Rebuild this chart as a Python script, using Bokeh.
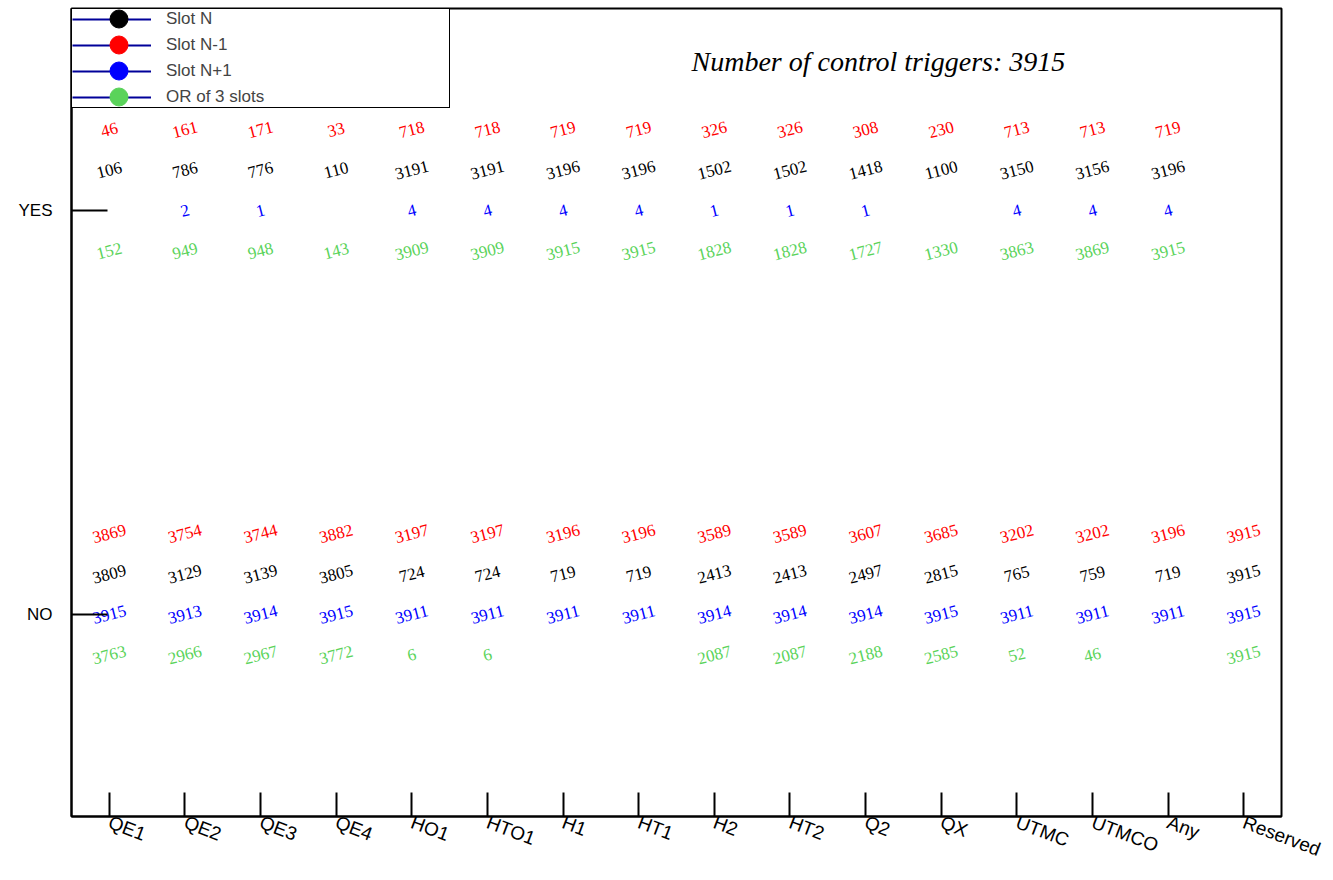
from bokeh.plotting import figure
from bokeh.models import ColumnDataSource, Legend, LegendItem, Label
from bokeh.transform import dodge
from bokeh.core.properties import value
from bokeh.embed import file_html
from bokeh.resources import INLINE

categories = ["QE1", "QE2", "QE3", "QE4", "HO1", "HTO1", "H1", "HT1", "H2", "HT2",
              "Q2", "QX", "UTMC", "UTMCO", "Any", "Reserved"]
states = ["NO", "YES"]

# YES row
yes_slot_nm1 = [46, 161, 171, 33, 718, 718, 719, 719, 326, 326, 308, 230, 713, 713, 719, None]
yes_slot_n = [106, 786, 776, 110, 3191, 3191, 3196, 3196, 1502, 1502, 1418, 1100, 3150, 3156, 3196, None]
yes_slot_np1 = [None, 2, 1, None, 4, 4, 4, 4, 1, 1, 1, None, 4, 4, 4, None]
yes_or3 = [152, 949, 948, 143, 3909, 3909, 3915, 3915, 1828, 1828, 1727, 1330, 3863, 3869, 3915, None]

# NO row
no_slot_nm1 = [3869, 3754, 3744, 3882, 3197, 3197, 3196, 3196, 3589, 3589, 3607, 3685, 3202, 3202, 3196, 3915]
no_slot_n = [3809, 3129, 3139, 3805, 724, 724, 719, 719, 2413, 2413, 2497, 2815, 765, 759, 719, 3915]
no_slot_np1 = [3915, 3913, 3914, 3915, 3911, 3911, 3911, 3911, 3914, 3914, 3914, 3915, 3911, 3911, 3911, 3915]
no_or3 = [3763, 2966, 2967, 3772, 6, 6, None, None, 2087, 2087, 2188, 2585, 52, 46, None, 3915]

series_names = ["Slot N", "Slot N-1", "Slot N+1", "OR of 3 slots"]
series_colors = ["#000000", "#ff0000", "#0000ff", "#5ad35a"]
n_triggers = 3915

SERIF = "Liberation Serif"
SANS = "Liberation Sans"

BORDER_TOP, BORDER_BOTTOM, HEIGHT = 8, 56, 872
FRAME_H = HEIGHT - BORDER_TOP - BORDER_BOTTOM

p = figure(width=1325, height=HEIGHT, x_range=categories, y_range=states,
           output_backend="svg", toolbar_location=None,
           min_border_left=71, min_border_right=44, min_border_top=BORDER_TOP,
           min_border_bottom=BORDER_BOTTOM)
p.xgrid.visible = False
p.ygrid.visible = False
p.outline_line_color = "black"
p.outline_line_width = 2
p.background_fill_color = "white"
p.border_fill_color = "white"

for ax in (p.xaxis[0], p.yaxis[0]):
    ax.axis_line_width = 2
    ax.major_tick_line_width = 2
    ax.major_tick_out = 0
    ax.minor_tick_line_color = None
    ax.major_label_text_font = SANS
    ax.major_label_text_color = "black"

p.xaxis[0].major_tick_in = 24
p.xaxis[0].major_label_orientation = -0.36
p.xaxis[0].major_label_standoff = 5
p.xaxis[0].major_label_text_font_size = "19px"
p.yaxis[0].major_tick_in = 36
p.yaxis[0].major_label_standoff = 19
p.yaxis[0].major_label_text_font_size = "17px"
p.yaxis[0].major_label_orientation = "horizontal"


def fmt(vals):
    return [("" if v is None else str(v)) for v in vals]


rows = [
    (yes_slot_nm1, no_slot_nm1, series_colors[1], 0.2),
    (yes_slot_n, no_slot_n, series_colors[0], 0.1),
    (yes_slot_np1, no_slot_np1, series_colors[2], 0.0),
    (yes_or3, no_or3, series_colors[3], -0.1),
]

for yes_vals, no_vals, col, off in rows:
    src = ColumnDataSource(dict(
        x=categories + categories,
        state=["YES"] * len(categories) + ["NO"] * len(categories),
        txt=fmt(yes_vals) + fmt(no_vals),
    ))
    p.text(x="x", y=dodge("state", off, range=p.y_range), text="txt", source=src,
           text_color=col, text_font=value(SERIF), text_font_size="17px",
           text_align="center", text_baseline="middle", angle=0.25)

# legend: hidden renderers only provide the legend swatches
line_items, dot_items = [], []
for name, col in zip(series_names, series_colors):
    lsrc = ColumnDataSource(dict(x=categories, y=["YES"] * len(categories)))
    lr = p.line(x="x", y="y", source=lsrc, line_color="#000099", line_width=2, visible=False)
    sr = p.scatter(x="x", y="y", source=lsrc, size=18, visible=False,
                   fill_color=col, line_color=col)
    line_items.append(LegendItem(label=name, renderers=[lr]))
    dot_items.append(LegendItem(label="", renderers=[sr]))

legend = Legend(items=line_items, location="top_left", margin=0, padding=0, spacing=6,
                glyph_width=79, glyph_height=20, label_height=20, label_standoff=15,
                label_width=283, label_text_font=SANS, label_text_font_size="17px",
                border_line_color="black", border_line_width=1.5, border_line_alpha=1.0,
                background_fill_color="white", background_fill_alpha=1.0,
                inactive_fill_alpha=0.0)
p.add_layout(legend, "center")

# big round markers over the legend lines (a legend's marker size follows its swatch box,
# so each marker gets its own 45px swatch)
ROW_PITCH, FIRST_ROW = 26, 10
for i, item in enumerate(dot_items):
    dot_legend = Legend(items=[item], location=(24.5, FRAME_H - (FIRST_ROW + ROW_PITCH * i + 22.5)),
                        margin=0, padding=0, glyph_width=45, glyph_height=45, label_height=20,
                        label_standoff=0, label_width=0, label_text_font_size="1px",
                        border_line_alpha=0.0, background_fill_alpha=0.0,
                        inactive_fill_alpha=0.0)
    p.add_layout(dot_legend, "center")

title = Label(x=620, y=FRAME_H - 53, x_units="screen", y_units="screen",
              text=f"Number of control triggers: {n_triggers}",
              text_font=SERIF, text_font_style="italic", text_font_size="28px",
              text_align="left", text_baseline="middle", text_color="black")
p.add_layout(title)

open("out.html", "w").write(file_html(p, INLINE))
